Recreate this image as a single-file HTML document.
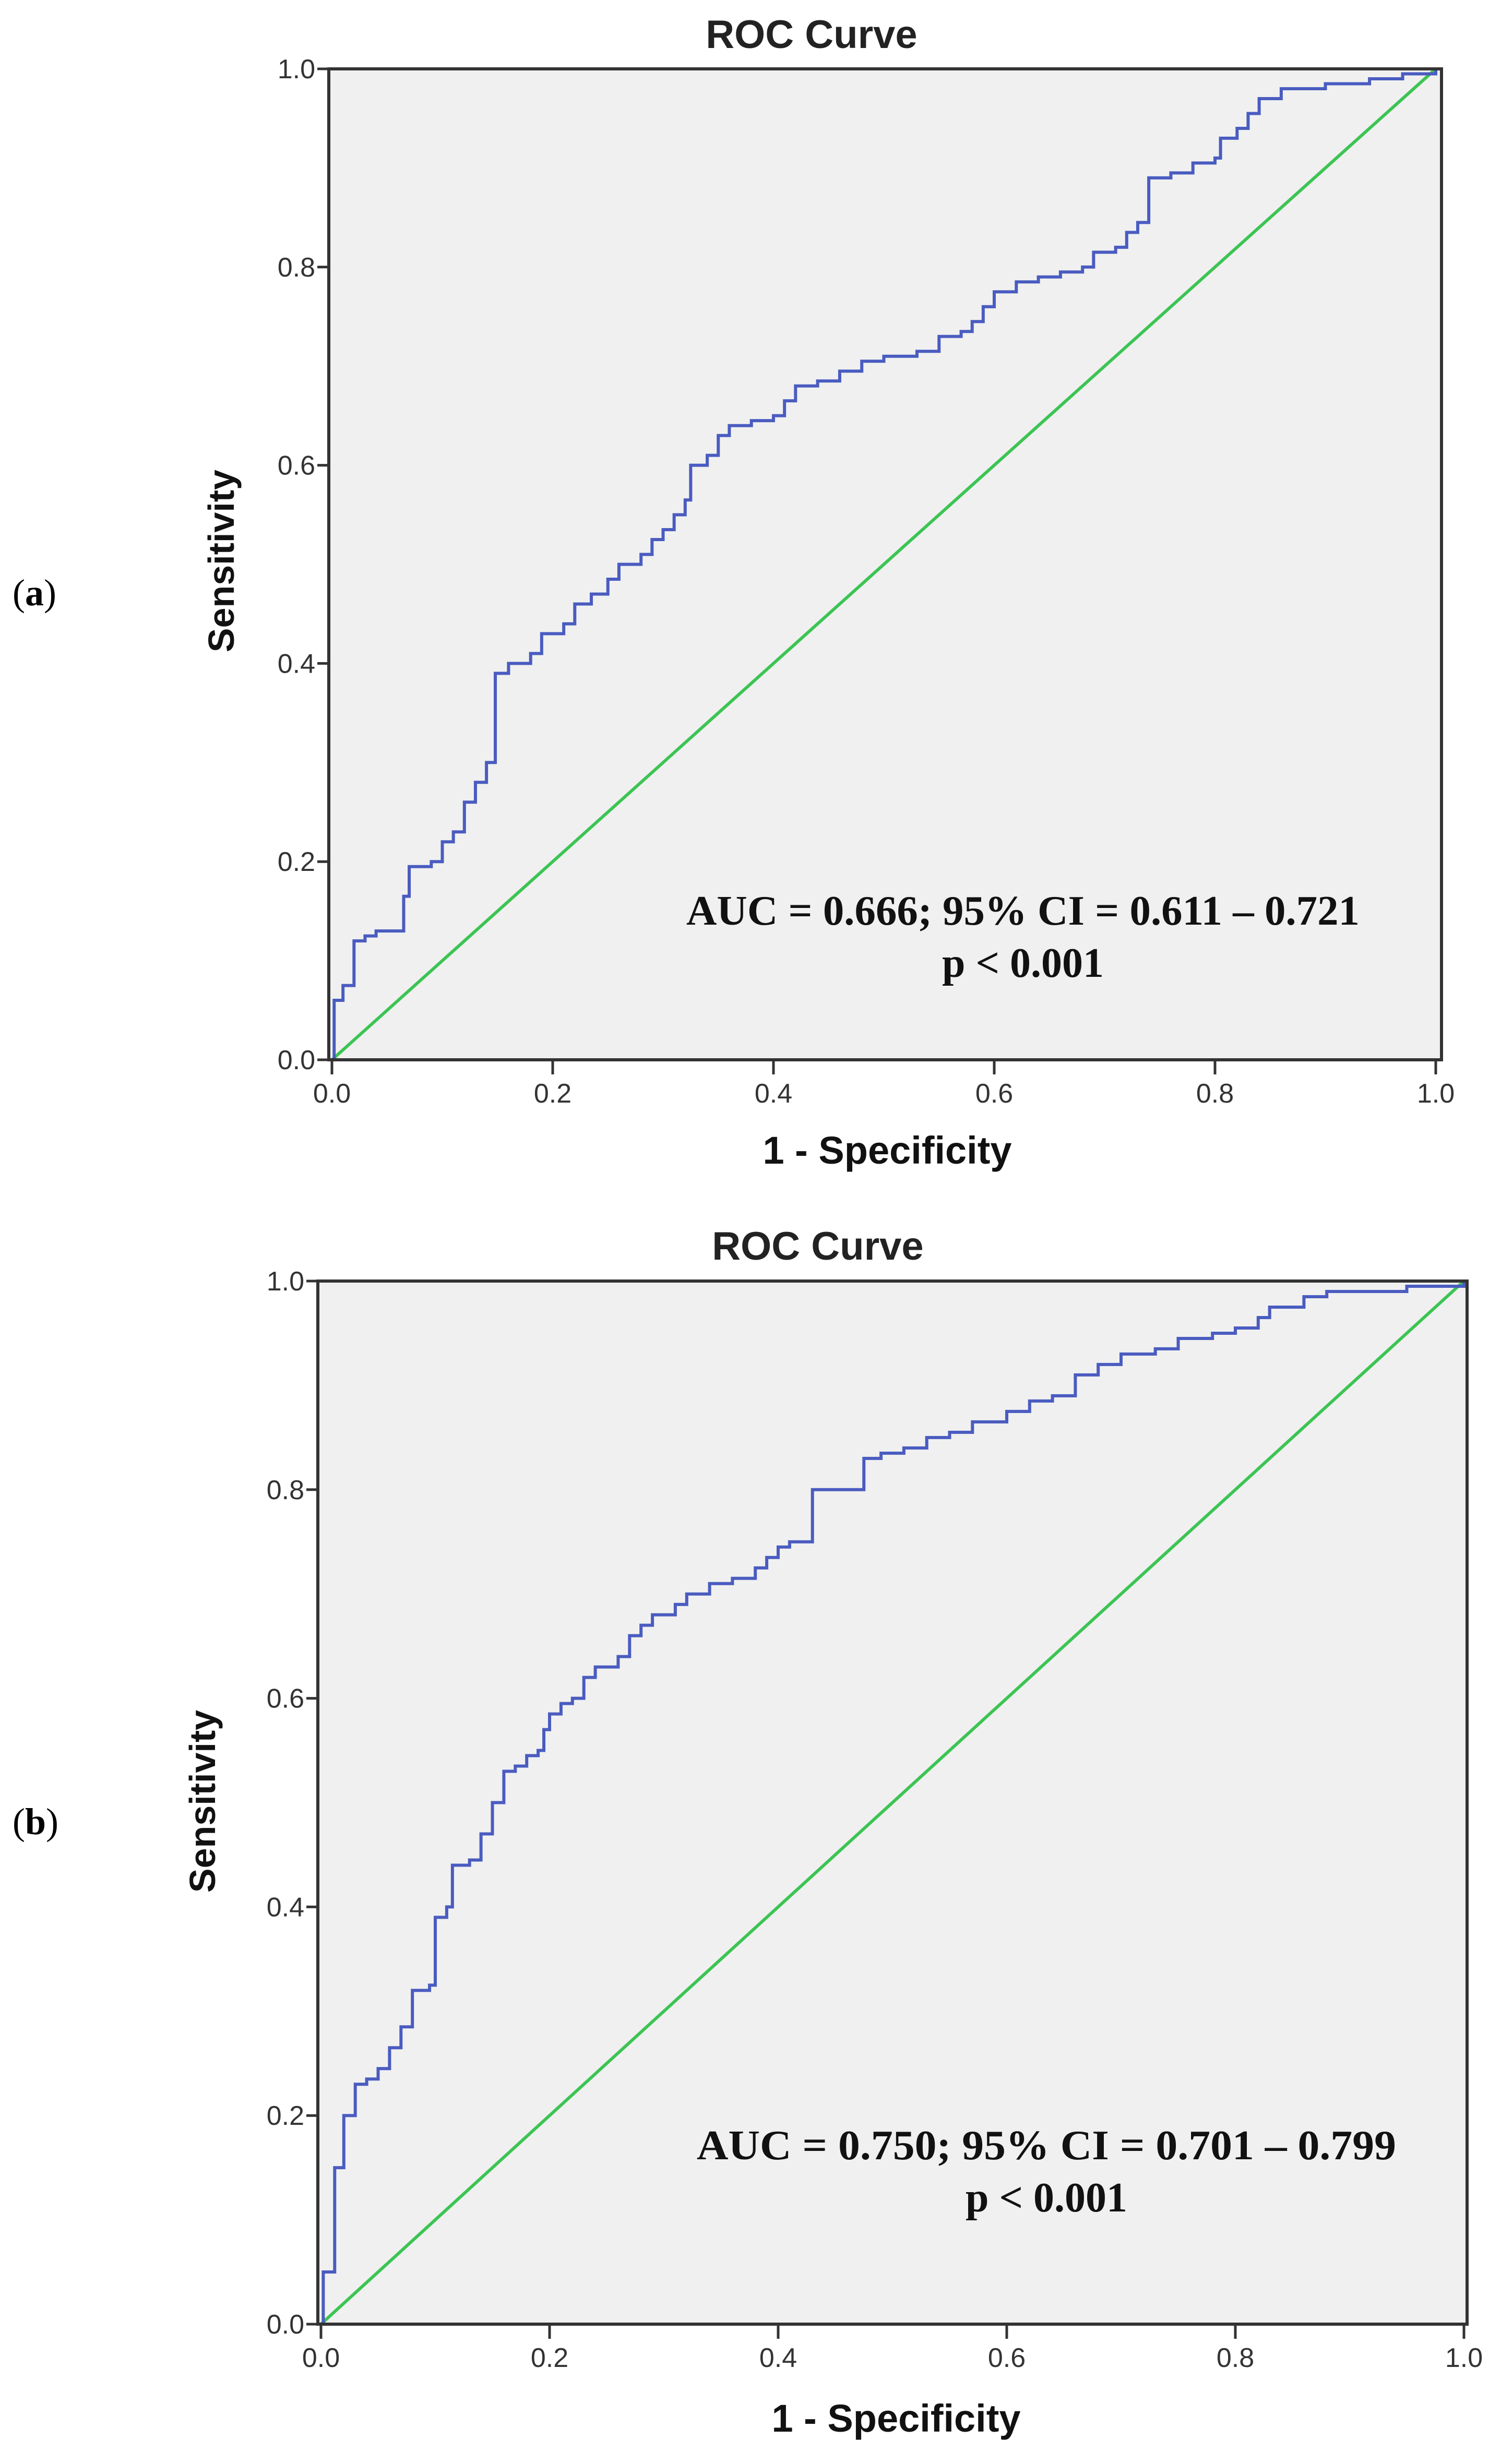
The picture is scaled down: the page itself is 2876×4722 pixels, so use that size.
<!DOCTYPE html>
<html><head><meta charset="utf-8"><style>
html,body{margin:0;padding:0;background:#fff}
svg{display:block}
</style></head><body>
<svg id="fig" width="2876" height="4722" viewBox="0 0 2876 4722" xmlns="http://www.w3.org/2000/svg">
<text x="24" y="1160" font-family="Liberation Serif, serif" font-size="72">(<tspan font-weight="bold">a</tspan>)</text>
<text x="24" y="3515" font-family="Liberation Serif, serif" font-size="72">(<tspan font-weight="bold">b</tspan>)</text>
</svg>
<script>
const tickVals = [0, 0.2, 0.4, 0.6, 0.8, 1.0];
const tickLabels = ["0.0","0.2","0.4","0.6","0.8","1.0"];
const fprA = [0,0.002,0.005,0.01,0.02,0.03,0.04,0.06,0.065,0.07,0.09,0.1,0.11,0.12,0.13,0.14,0.148,0.16,0.18,0.19,0.21,0.22,0.235,0.25,0.26,0.28,0.29,0.3,0.31,0.32,0.325,0.34,0.35,0.36,0.38,0.4,0.41,0.42,0.44,0.46,0.48,0.5,0.53,0.55,0.57,0.58,0.59,0.6,0.62,0.64,0.66,0.68,0.69,0.71,0.72,0.73,0.74,0.76,0.78,0.8,0.805,0.82,0.83,0.84,0.86,0.9,0.94,0.97,1];
const tprA = [0,0.06,0.06,0.075,0.12,0.125,0.13,0.13,0.165,0.195,0.2,0.22,0.23,0.26,0.28,0.3,0.39,0.4,0.41,0.43,0.44,0.46,0.47,0.485,0.5,0.51,0.525,0.535,0.55,0.565,0.6,0.61,0.63,0.64,0.645,0.65,0.665,0.68,0.685,0.695,0.705,0.71,0.715,0.73,0.735,0.745,0.76,0.775,0.785,0.79,0.795,0.8,0.815,0.82,0.835,0.845,0.89,0.895,0.905,0.91,0.93,0.94,0.955,0.97,0.98,0.985,0.99,0.995,1];
const fprB = [0,0.002,0.01,0.012,0.02,0.03,0.04,0.05,0.06,0.07,0.08,0.095,0.1,0.11,0.115,0.13,0.14,0.15,0.16,0.17,0.18,0.19,0.195,0.2,0.21,0.22,0.23,0.24,0.26,0.27,0.28,0.29,0.31,0.32,0.34,0.36,0.38,0.39,0.4,0.41,0.43,0.47,0.475,0.49,0.51,0.53,0.55,0.57,0.6,0.62,0.64,0.66,0.68,0.7,0.73,0.75,0.78,0.8,0.82,0.83,0.86,0.88,0.95,1];
const tprB = [0,0.05,0.05,0.15,0.2,0.23,0.235,0.245,0.265,0.285,0.32,0.325,0.39,0.4,0.44,0.445,0.47,0.5,0.53,0.535,0.545,0.55,0.57,0.585,0.595,0.6,0.62,0.63,0.64,0.66,0.67,0.68,0.69,0.7,0.71,0.715,0.725,0.735,0.745,0.75,0.8,0.8,0.83,0.835,0.84,0.85,0.855,0.865,0.875,0.885,0.89,0.91,0.92,0.93,0.935,0.945,0.95,0.955,0.965,0.975,0.985,0.99,0.995,1];

const NS = "http://www.w3.org/2000/svg";
const svg = document.getElementById('fig');
function mk(tag, attrs, parent){
  const e = document.createElementNS(NS, tag);
  for (const k in attrs) e.setAttribute(k, attrs[k]);
  (parent||svg).appendChild(e);
  return e;
}
function drawChart(cfg, fpr, tpr){
  const g = mk('g', {});
  
  
  const sx = v => cfg.x0 + v*(cfg.x1-cfg.x0);
  const sy = v => cfg.y0 - v*(cfg.y0-cfg.y1);
  const bg = mk('rect', {x:cfg.left, y:cfg.y1, width:cfg.right-cfg.left, height:cfg.y0-cfg.y1, fill:'#f0f0f0'}, g);
  
  
  const diag = mk('line', {x1:sx(0), y1:sy(0), x2:sx(1), y2:sy(1), stroke:'#3cc453', 'stroke-width':6}, g);
  
  
  let d = 'M' + sx(fpr[0]) + ' ' + sy(tpr[0]);
  for (let i=1;i<fpr.length;i++){ d += ' H' + sx(fpr[i]) + ' V' + sy(tpr[i]); }
  const curve = mk('path', {d:d, fill:'none', stroke:'#4a5cc0', 'stroke-width':6}, g);
  
  
  const fr = mk('path', {d:`M${cfg.left} ${cfg.y1} H${cfg.right} V${cfg.y0} H${cfg.left} Z`, fill:'none', stroke:'#333', 'stroke-width':6}, g);
  
  
  tickVals.forEach((v,i)=>{
    const tx = mk('line', {x1:sx(v), y1:cfg.y0, x2:sx(v), y2:cfg.y0+28, stroke:'#333', 'stroke-width':5}, g);
    
    
    const lx = mk('text', {x:sx(v), y:cfg.y0+82, 'text-anchor':'middle', 'font-family':'Liberation Sans, sans-serif', 'font-size':52, fill:'#333'}, g);
    lx.textContent = tickLabels[i];
    
    
    const ty = mk('line', {x1:cfg.left-22, y1:sy(v), x2:cfg.left, y2:sy(v), stroke:'#333', 'stroke-width':5}, g);
    
    
    const ly = mk('text', {x:cfg.left-26, y:sy(v)+18, 'text-anchor':'end', 'font-family':'Liberation Sans, sans-serif', 'font-size':52, fill:'#333'}, g);
    ly.textContent = tickLabels[i];
    
    
  });
  const t = mk('text', {x:cfg.titleX, y:cfg.titleY, 'text-anchor':'middle', 'font-family':'Liberation Sans, sans-serif', 'font-weight':'bold', 'font-size':76, fill:'#222'}, g);
  t.textContent = 'ROC Curve';
  
  
  const xt = mk('text', {x:cfg.xtX, y:cfg.xtY, 'text-anchor':'middle', 'font-family':'Liberation Sans, sans-serif', 'font-weight':'bold', 'font-size':74, fill:'#111'}, g);
  xt.textContent = '1 - Specificity';
  
  
  const yt = mk('text', {x:0, y:0, transform:`translate(${cfg.ytX},${cfg.ytY}) rotate(-90)`, 'text-anchor':'middle', 'font-family':'Liberation Sans, sans-serif', 'font-weight':'bold', 'font-size':70, fill:'#111'}, g);
  yt.textContent = 'Sensitivity';
  
  
  const a1 = mk('text', {x:cfg.aucX, y:cfg.aucY, 'text-anchor':'middle', 'font-family':'Liberation Serif, serif', 'font-weight':'bold', 'font-size':80, 'textLength':cfg.aucW, 'lengthAdjust':'spacingAndGlyphs', fill:'#111'}, g);
  a1.textContent = cfg.auc;
  
  
  const a2 = mk('text', {x:cfg.aucX, y:cfg.aucY+100, 'text-anchor':'middle', 'font-family':'Liberation Serif, serif', 'font-weight':'bold', 'font-size':80, fill:'#111'}, g);
  a2.textContent = 'p < 0.001';
  
  
}
drawChart({name:'roc-chart-a', left:630, right:2762, x0:636, x1:2751, y0:2031, y1:132,
  titleX:1555, titleY:92, xtX:1700, xtY:2230, ytX:448, ytY:1075,
  aucX:1960, aucY:1772, aucW:1290, auc:'AUC = 0.666; 95% CI = 0.611 – 0.721'}, fprA, tprA);
drawChart({name:'roc-chart-b', left:609, right:2811, x0:615, x1:2805, y0:4454, y1:2455,
  titleX:1567, titleY:2414, xtX:1717, xtY:4660, ytX:412, ytY:3452,
  aucX:2005, aucY:4138, aucW:1340, auc:'AUC = 0.750; 95% CI = 0.701 – 0.799'}, fprB, tprB);
</script>
</body></html>
